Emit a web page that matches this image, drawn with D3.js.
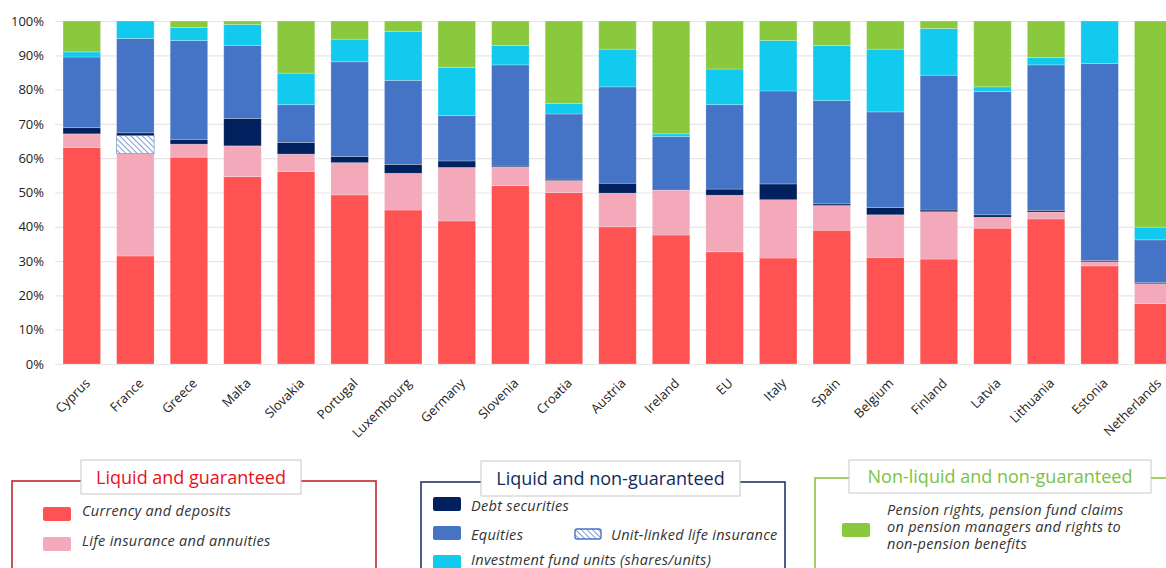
<!DOCTYPE html>
<html>
<head>
<meta charset="utf-8">
<script src="https://cdn.jsdelivr.net/npm/d3@7"></script>
<style>
  body { margin: 0; background: #fff; }
  svg { display: block; font-family: "Open Sans", sans-serif; }
</style>
</head>
<body>
<div id="chart"></div>
<script>
// countries in display order
var countries = ["Cyprus", "France", "Greece", "Malta", "Slovakia", "Portugal", "Luxembourg", "Germany", "Slovenia", "Croatia", "Austria",
  "Ireland", "EU", "Italy", "Spain", "Belgium", "Finland", "Latvia", "Lithuania", "Estonia", "Netherlands"];

// shares of household financial assets, %
var currency   = [63.1, 31.5, 60.3, 54.6, 56.1, 49.3, 44.9, 41.7, 52.0, 50.0, 40.0, 37.6, 32.7, 30.9, 39.0, 31.1, 30.6, 39.6, 42.3, 28.6, 17.6];
var lifeIns    = [4.0, 29.9, 3.8, 9.0, 5.1, 9.4, 10.7, 15.6, 5.4, 3.5, 9.8, 13.1, 16.5, 17.0, 7.2, 12.4, 13.8, 3.2, 2.0, 1.2, 5.8];
var unitLinked = [0, 5.2, 0, 0, 0, 0, 0, 0, 0, 0, 0, 0, 0, 0, 0, 0, 0, 0, 0, 0, 0];
var debtSec    = [1.8, 0.8, 1.4, 8.0, 3.4, 1.8, 2.6, 1.9, 0.3, 0.4, 2.9, 0, 1.8, 4.6, 0.5, 2.1, 0.5, 0.7, 0.5, 0.4, 0.3];
var equities   = [20.6, 27.5, 28.8, 21.3, 11.0, 27.6, 24.5, 13.2, 29.5, 19.0, 28.1, 15.6, 24.6, 27.1, 30.1, 27.9, 39.3, 35.9, 42.4, 57.4, 12.5];
var funds      = [1.5, 5.1, 3.8, 6.1, 9.2, 6.6, 14.3, 14.1, 5.7, 3.1, 11.0, 0.8, 10.4, 14.7, 16.1, 18.3, 13.6, 1.4, 2.2, 12.4, 3.7];
var pension    = [9.0, 0, 1.9, 1.0, 15.2, 5.3, 3.0, 13.5, 7.1, 24.0, 8.2, 32.9, 14.0, 5.7, 7.1, 8.2, 2.2, 19.2, 10.6, 0, 60.1];

var yTicks = [0, 10, 20, 30, 40, 50, 60, 70, 80, 90, 100];

var keys = ["currency", "lifeIns", "unitLinked", "debtSec", "equities", "funds", "pension"];
var colors = {
  currency: "#ff5252", lifeIns: "#f3a9b9", unitLinked: "url(#hatch)", debtSec: "#00215e",
  equities: "#4573c5", funds: "#12caee", pension: "#8ac83e"
};

var rows = countries.map(function(c, i) {
  return { country: c, currency: currency[i], lifeIns: lifeIns[i], unitLinked: unitLinked[i],
    debtSec: debtSec[i], equities: equities[i], funds: funds[i], pension: pension[i] };
});

var width = 1166, height = 568;
var svg = d3.select("#chart").append("svg")
  .attr("width", width)
  .attr("height", height);

var defs = svg.append("defs");
var pat = defs.append("pattern")
  .attr("id", "hatch")
  .attr("patternUnits", "userSpaceOnUse")
  .attr("width", 4).attr("height", 4)
  .attr("patternTransform", "rotate(-45)");
pat.append("rect").attr("width", 4).attr("height", 4).attr("fill", "#fff");
pat.append("line").attr("x1", 0).attr("y1", 0).attr("x2", 0).attr("y2", 4)
  .attr("stroke", "#7f9fd2").attr("stroke-width", 2);

var x = d3.scaleBand().domain(countries).range([55, 1180]).paddingInner(0.3).paddingOuter(0.15);
var y = d3.scaleLinear().domain([0, 100]).range([364, 21]);

// gridlines
svg.append("g")
  .attr("class", "grid")
  .attr("transform", "translate(55,0)")
  .call(d3.axisLeft(y).tickValues(yTicks).tickSize(-(width - 55)).tickFormat(""))
  .call(function(g) {
    g.select(".domain").remove();
    g.selectAll("line").attr("stroke", "#e6e6e6").attr("stroke-width", 1.2);
  });

// y axis labels
svg.append("g")
  .attr("transform", "translate(55,0)")
  .call(d3.axisLeft(y).tickValues(yTicks).tickSize(0).tickPadding(11).tickFormat(function(d) { return d + "%"; }))
  .call(function(g) {
    g.select(".domain").remove();
    g.selectAll("text").attr("font-size", 13).attr("fill", "#222").attr("font-family", "Open Sans, sans-serif");
  });

var stack = d3.stack().keys(keys);
var series = stack(rows);

svg.append("g").selectAll("g")
  .data(series)
  .enter().append("g")
  .attr("fill", function(d) { return colors[d.key]; })
  .selectAll("rect")
  .data(function(d) { return d.map(function(p) { p.key = d.key; return p; }); })
  .enter().append("rect")
  .attr("x", function(d) { return x(d.data.country); })
  .attr("y", function(d) { return y(d[1]); })
  .attr("width", x.bandwidth())
  .attr("height", function(d) { return Math.max(0, y(d[0]) - y(d[1])); })
  .attr("stroke", function(d) { return d.key === "unitLinked" ? "#7f9fd2" : "#fff"; })
  .attr("stroke-opacity", function(d) { return d.key === "unitLinked" ? 1 : 0.3; })
  .attr("stroke-width", 0.8);

// x labels
svg.append("g").selectAll("text")
  .data(countries)
  .enter().append("text")
  .attr("transform", function(d) { return "translate(" + (x(d) + x.bandwidth() / 2 + 9) + ",384) rotate(-45)"; })
  .attr("text-anchor", "end")
  .attr("font-size", 13)
  .attr("fill", "#222")
  .text(function(d) { return d; });

// legend boxes
function groupBox(bx, by, bw, col, tx, ty, tw, th, title, titleCol) {
  svg.append("rect").attr("x", bx).attr("y", by).attr("width", bw).attr("height", 120)
    .attr("fill", "none").attr("stroke", col).attr("stroke-width", 1.6);
  svg.append("rect").attr("x", tx).attr("y", ty).attr("width", tw).attr("height", th)
    .attr("fill", "#fff").attr("stroke", "#c8c8c8").attr("stroke-width", 1);
  svg.append("text").attr("x", tx + tw / 2).attr("y", ty + th / 2 + 6.5)
    .attr("text-anchor", "middle").attr("font-size", 18).attr("fill", titleCol)
    .text(title);
}
groupBox(12, 481, 364, "#c0282d", 81, 460, 220, 34, "Liquid and guaranteed", "#e8101a");
groupBox(421, 482, 364, "#1f3864", 481, 461, 259, 35, "Liquid and non-guaranteed", "#0f2b5b");
groupBox(815, 478, 420, "#8dc63f", 849, 460, 302, 33, "Non-liquid and non-guaranteed", "#7cc242");

function item(sx, sy, sw, sh, key, tx, lines) {
  svg.append("rect").attr("x", sx).attr("y", sy).attr("width", sw).attr("height", sh)
    .attr("rx", 2).attr("fill", colors[key])
    .attr("stroke", key === "unitLinked" ? "#4573c5" : "none").attr("stroke-width", 1.4);
  var t = svg.append("text").attr("x", tx).attr("font-size", 14.5).attr("letter-spacing", 0.3)
    .attr("font-style", "italic").attr("fill", "#333");
  lines.forEach(function(l, i) {
    t.append("tspan").attr("x", tx).attr("y", l[1]).text(l[0]);
  });
}
item(43, 507, 28, 14, "currency", 82, [["Currency and deposits", 516]]);
item(43, 537, 28, 14, "lifeIns", 82, [["Life insurance and annuities", 546]]);
item(433, 497, 28, 14, "debtSec", 471, [["Debt securities", 511]]);
item(433, 526, 28, 14, "equities", 471, [["Equities", 540]]);
item(575, 529, 26, 10, "unitLinked", 611, [["Unit-linked life insurance", 540]]);
item(433, 555, 28, 14, "funds", 471, [["Investment fund units (shares/units)", 565]]);
item(842, 523, 28, 14, "pension", 887, [["Pension rights, pension fund claims", 515], ["on pension managers and rights to", 532], ["non-pension benefits", 549]]);
</script>
</body>
</html>
